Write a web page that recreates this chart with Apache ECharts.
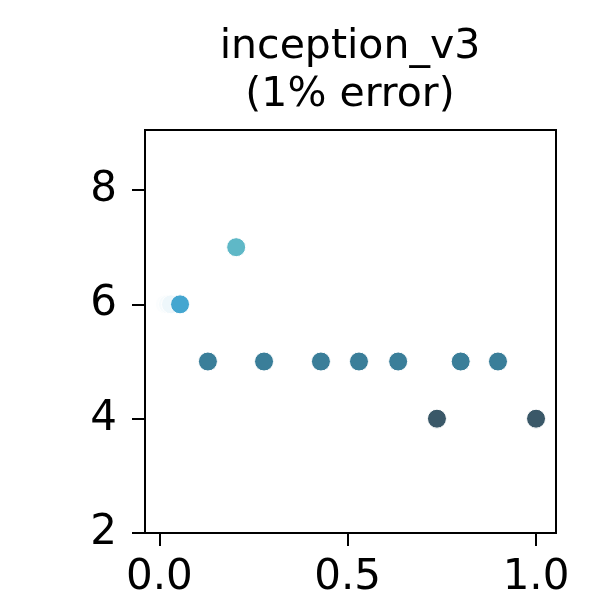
<!DOCTYPE html>
<html>
<head>
<meta charset="utf-8">
<script src="https://cdn.jsdelivr.net/npm/echarts@6/dist/echarts.min.js"></script>
<style>
  html, body { margin: 0; padding: 0; background: #fff; }
  #chart { width: 598px; height: 601px; }
</style>
</head>
<body>
<div id="chart"></div>
<script>
// values
var xValues = [0.015, 0.023, 0.031, 0.055, 0.204, 0.129, 0.278, 0.429, 0.530, 0.634, 0.800, 0.899, 0.737, 1.0];
var yValues = [6, 6, 6, 6, 7, 5, 5, 5, 5, 5, 5, 5, 4, 4];
var pointColors = ['#fbfdfe', '#f6fbfd', '#eef7fb', '#44a6d0', '#5fb8c7',
  '#3a7e99', '#3a7e99', '#3a7e99', '#3a7e99', '#3a7e99', '#3a7e99', '#3a7e99',
  '#3a5868', '#3a5868'];
var xTicks = [0, 0.5, 1.0];
var yTicks = [2, 4, 6, 8];
var titleText = 'inception_v3\n(1% error)';

var chart = echarts.init(document.getElementById('chart'));

var points = [];
for (var i = 0; i < xValues.length; i++) {
  points.push({
    value: [xValues[i], yValues[i]],
    itemStyle: { color: pointColors[i] }
  });
}

var font = 'DejaVu Sans';

var option = {
  animation: false,
  title: {
    text: titleText,
    left: 350,
    textAlign: 'center',
    top: 23,
    padding: 0,
    textStyle: {
      fontFamily: font,
      fontSize: 41,
      fontWeight: 'normal',
      color: '#000',
      lineHeight: 48
    }
  },
  grid: {
    left: 145,
    right: 42,
    top: 130,
    bottom: 68,
    show: true,
    borderColor: '#000',
    borderWidth: 2,
    backgroundColor: 'transparent'
  },
  xAxis: {
    type: 'value',
    min: -0.038,
    max: 1.053,
    splitLine: { show: false },
    axisLine: { show: true, onZero: false, lineStyle: { color: '#000', width: 2 } },
    axisTick: { show: true, length: 13, customValues: xTicks, lineStyle: { color: '#000', width: 2 } },
    axisLabel: {
      customValues: xTicks,
      margin: 24,
      fontFamily: font,
      fontSize: 42,
      color: '#000',
      formatter: function (v) { return v.toFixed(1); }
    }
  },
  yAxis: {
    type: 'value',
    min: 2,
    max: 9.05,
    splitLine: { show: false },
    axisLine: { show: true, onZero: false, lineStyle: { color: '#000', width: 2 } },
    axisTick: { show: true, length: 13, customValues: yTicks, lineStyle: { color: '#000', width: 2 } },
    axisLabel: {
      customValues: yTicks,
      margin: 28,
      fontFamily: font,
      fontSize: 42,
      color: '#000'
    }
  },
  series: [{
    type: 'scatter',
    symbolSize: 19,
    itemStyle: { borderColor: '#fff', borderWidth: 1, opacity: 1 },
    data: points
  }]
};

chart.setOption(option);
</script>
</body>
</html>
